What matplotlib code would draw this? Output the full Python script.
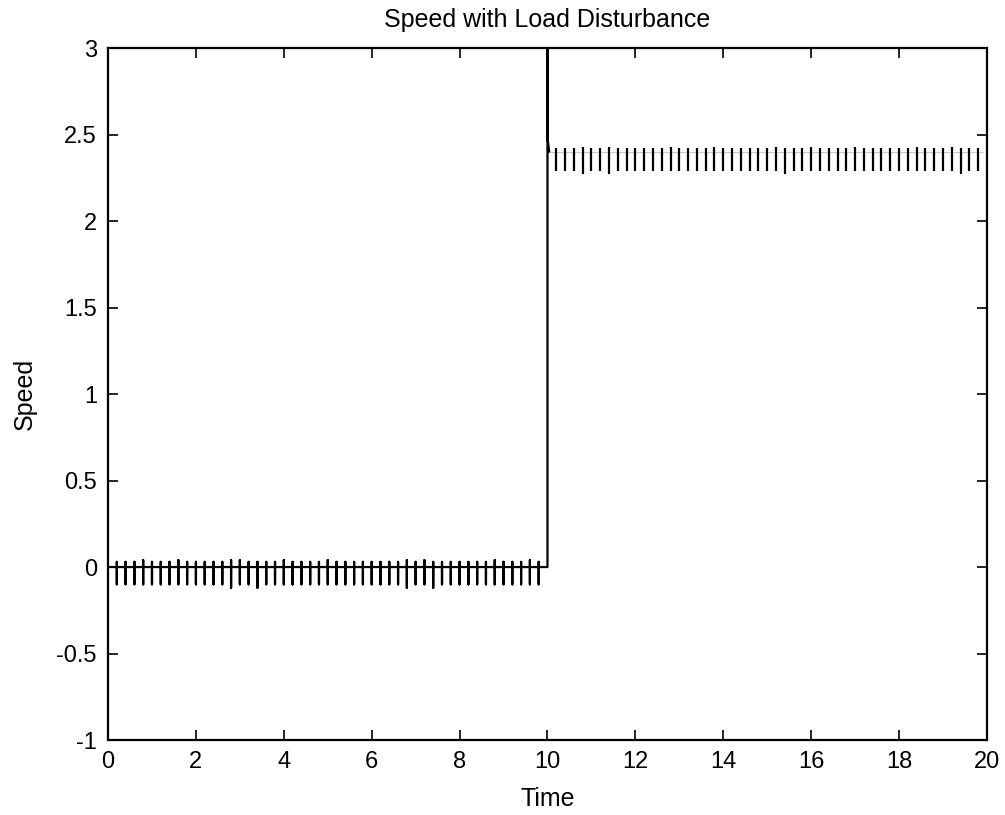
import matplotlib.pyplot as plt

plt.rcParams['font.family'] = ['Liberation Sans', 'DejaVu Sans']

# ripple before the load step (speed around 0)
t_low = [0.2, 0.4, 0.6, 0.8, 1.0, 1.2, 1.4, 1.6, 1.8, 2.0,
         2.2, 2.4, 2.6, 2.8, 3.0, 3.2, 3.4, 3.6, 3.8, 4.0,
         4.2, 4.4, 4.6, 4.8, 5.0, 5.2, 5.4, 5.6, 5.8, 6.0,
         6.2, 6.4, 6.6, 6.8, 7.0, 7.2, 7.4, 7.6, 7.8, 8.0,
         8.2, 8.4, 8.6, 8.8, 9.0, 9.2, 9.4, 9.6, 9.8]
low_base = 0.0
low_peak = [0.03, 0.03, 0.03, 0.04, 0.03, 0.03, 0.03, 0.04, 0.03, 0.03,
            0.03, 0.03, 0.03, 0.04, 0.04, 0.03, 0.03, 0.03, 0.03, 0.04,
            0.03, 0.03, 0.03, 0.03, 0.04, 0.03, 0.03, 0.03, 0.03, 0.03,
            0.03, 0.03, 0.03, 0.04, 0.03, 0.04, 0.03, 0.03, 0.03, 0.03,
            0.03, 0.03, 0.03, 0.04, 0.03, 0.03, 0.03, 0.04, 0.03]
low_dip = [-0.10, -0.10, -0.10, -0.10, -0.10, -0.10, -0.10, -0.10, -0.10, -0.10,
           -0.10, -0.10, -0.10, -0.12, -0.10, -0.10, -0.12, -0.10, -0.10, -0.10,
           -0.10, -0.10, -0.10, -0.10, -0.10, -0.10, -0.10, -0.10, -0.10, -0.10,
           -0.10, -0.10, -0.10, -0.12, -0.10, -0.10, -0.12, -0.10, -0.10, -0.10,
           -0.10, -0.10, -0.10, -0.10, -0.10, -0.10, -0.10, -0.10, -0.10]

# load step
step_time = 10.0
step_overshoot = 3.3
step_settle = [(10.005, 2.47), (10.04, 2.4)]

# ripple after the load step (speed around 2.4)
t_high = [10.2, 10.4, 10.6, 10.8, 11.0, 11.2, 11.4, 11.6, 11.8, 12.0,
          12.2, 12.4, 12.6, 12.8, 13.0, 13.2, 13.4, 13.6, 13.8, 14.0,
          14.2, 14.4, 14.6, 14.8, 15.0, 15.2, 15.4, 15.6, 15.8, 16.0,
          16.2, 16.4, 16.6, 16.8, 17.0, 17.2, 17.4, 17.6, 17.8, 18.0,
          18.2, 18.4, 18.6, 18.8, 19.0, 19.2, 19.4, 19.6, 19.8]
high_base = 2.4
high_peak = [2.42, 2.42, 2.42, 2.43, 2.42, 2.42, 2.43, 2.42, 2.42, 2.42,
             2.42, 2.42, 2.42, 2.43, 2.42, 2.42, 2.42, 2.42, 2.43, 2.42,
             2.42, 2.42, 2.42, 2.42, 2.42, 2.43, 2.42, 2.42, 2.42, 2.43,
             2.42, 2.42, 2.42, 2.42, 2.43, 2.42, 2.42, 2.42, 2.42, 2.42,
             2.42, 2.43, 2.42, 2.42, 2.42, 2.43, 2.42, 2.42, 2.42]
high_dip = [2.29, 2.29, 2.29, 2.27, 2.29, 2.29, 2.27, 2.29, 2.29, 2.29,
            2.29, 2.29, 2.29, 2.29, 2.29, 2.29, 2.29, 2.29, 2.29, 2.29,
            2.29, 2.29, 2.29, 2.29, 2.29, 2.29, 2.27, 2.29, 2.29, 2.29,
            2.29, 2.29, 2.29, 2.29, 2.29, 2.29, 2.29, 2.29, 2.29, 2.29,
            2.29, 2.29, 2.29, 2.29, 2.29, 2.29, 2.27, 2.29, 2.29]

x_ticks = [0, 2, 4, 6, 8, 10, 12, 14, 16, 18, 20]
y_ticks = [-1, -0.5, 0, 0.5, 1, 1.5, 2, 2.5, 3]
y_tick_labels = ['-1', '-0.5', '0', '0.5', '1', '1.5', '2', '2.5', '3']

# trace before and through the step
tt = [0.0]
yy = [low_base]
for t, p, d in zip(t_low, low_peak, low_dip):
    tt += [t, t, t, t]
    yy += [low_base, p, d, low_base]
tt += [step_time, step_time]
yy += [low_base, step_overshoot]
for t, v in step_settle:
    tt.append(t)
    yy.append(v)

fig = plt.figure(figsize=(10.05, 8.15), dpi=100)
ax = fig.add_axes([0.1075, 0.092, 0.8745, 0.849])

ax.plot(tt, yy, color='black', linewidth=1.6)

# faint baseline and ripple after the step
ax.hlines(high_base, step_settle[-1][0], 19.9, color='#c8c8c8', linewidth=0.8)
ax.vlines(t_high, high_dip, high_peak, color='black', linewidth=1.6)

ax.set_xlim(0, 20)
ax.set_ylim(-1, 3)
ax.set_xticks(x_ticks)
ax.set_yticks(y_ticks)
ax.set_yticklabels(y_tick_labels)
ax.tick_params(direction='in', length=7, width=1.2, top=True, right=True,
               labelsize=17, pad=8)
for s in ax.spines.values():
    s.set_linewidth(1.6)

ax.set_title('Speed with Load Disturbance', fontsize=18, pad=15)
ax.set_xlabel('Time', fontsize=18, labelpad=10)
ax.set_ylabel('Speed', fontsize=18, labelpad=14)

fig.savefig('out.png', dpi=100)
